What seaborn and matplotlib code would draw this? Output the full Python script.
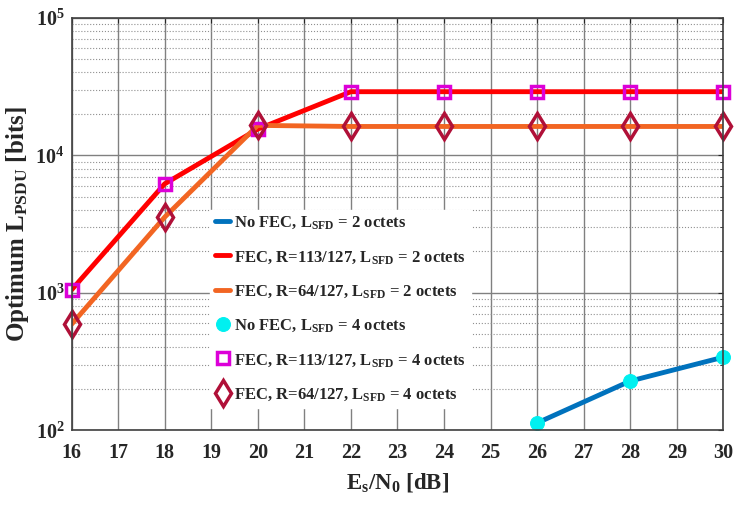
import numpy as np
import pandas as pd
import seaborn as sns
import matplotlib.pyplot as plt
from matplotlib.ticker import LogLocator, NullFormatter

sns.set_style('white')
plt.rcParams['font.family'] = ['Liberation Serif', 'DejaVu Serif']
plt.rcParams['font.weight'] = 'bold'
plt.rcParams['mathtext.fontset'] = 'custom'
plt.rcParams['mathtext.rm'] = 'Liberation Serif:bold'
plt.rcParams['mathtext.bf'] = 'Liberation Serif:bold'
plt.rcParams['mathtext.it'] = 'Liberation Serif:bold'
plt.rcParams['mathtext.default'] = 'bf'

# data
snr_fec = [16, 18, 20, 22, 24, 26, 28, 30]
fec113 = [1050, 6200, 15500, 29000, 29000, 29000, 29000, 29000]
fec64 = [590, 3550, 16500, 16200, 16200, 16200, 16200, 16200]
snr_nofec = [26, 28, 30]
nofec = [113, 228, 340]

labels = [r'No FEC, L$_{\mathbf{SFD}}$ = 2 octets',
          r'FEC, R=113/127, L$_{\mathbf{SFD}}$ = 2 octets',
          r'FEC, R=64/127, L$_{\mathbf{SFD}}$ = 2 octets',
          r'No FEC, L$_{\mathbf{SFD}}$ = 4 octets',
          r'FEC, R=113/127, L$_{\mathbf{SFD}}$ = 4 octets',
          r'FEC, R=64/127, L$_{\mathbf{SFD}}$ = 4 octets']

#%%
fig, ax = plt.subplots(figsize=(7.38, 5.08), dpi=100)
fig.subplots_adjust(left=0.097, right=0.98, top=0.965, bottom=0.153)

lw = 3.5
sns.lineplot(x=snr_nofec, y=nofec, color='#0072BD', lw=lw, ax=ax, label=labels[0])
sns.lineplot(x=snr_fec, y=fec113, color='#FF0000', lw=lw, ax=ax, label=labels[1])
sns.lineplot(x=snr_fec, y=fec64, color='#F26522', lw=lw, ax=ax, label=labels[2])
sns.lineplot(x=snr_nofec, y=nofec, ax=ax, label=labels[3], linestyle='',
             marker='o', ms=10, mfc='#00F0F0', mec='#00F0F0', clip_on=False)
sns.lineplot(x=snr_fec, y=fec113, ax=ax, label=labels[4], linestyle='',
             marker='s', ms=8.5, mfc='none', mec='#DC00D8', mew=2.5, clip_on=False)
sns.lineplot(x=snr_fec, y=fec64, ax=ax, label=labels[5], linestyle='',
             marker='d', ms=13, mfc='none', mec='#B01038', mew=2.5, clip_on=False)

ax.set_yscale('log')
ax.set_xlim(16, 30)
ax.set_ylim(1e2, 1e5)
ax.set_xticks(range(16, 31))
ax.yaxis.set_minor_locator(LogLocator(base=10, subs=np.arange(2, 10)))
ax.yaxis.set_minor_formatter(NullFormatter())
ax.grid(which='major', color='#808080', lw=1.0, ls='-')
ax.grid(which='minor', axis='y', color='#909090', lw=0.8, ls=':')
ax.tick_params(which='both', direction='in', top=True, right=True, labelsize=14.5)
ax.tick_params(axis='x', pad=9)
ax.tick_params(axis='y', pad=5)
for s in ax.spines.values():
    s.set_color('#404040')
    s.set_linewidth(1.2)

ax.set_xlabel(r'E$_\mathbf{s}$/N$_\mathbf{0}$ [dB]', fontsize=16.5, fontweight='bold', labelpad=6)
ax.set_ylabel(r'Optimum L$_{\mathbf{PSDU}}$ [bits]', fontsize=18, fontweight='bold', labelpad=3)

leg = ax.legend(loc='upper left', bbox_to_anchor=(0.213, 0.535), fontsize=12,
                handlelength=0.9, handletextpad=0.2, labelspacing=1.05,
                borderpad=0.3, borderaxespad=0, frameon=True, fancybox=False,
                framealpha=1, edgecolor='white')
leg.set_zorder(5)

plt.savefig('out.png', dpi=100)
